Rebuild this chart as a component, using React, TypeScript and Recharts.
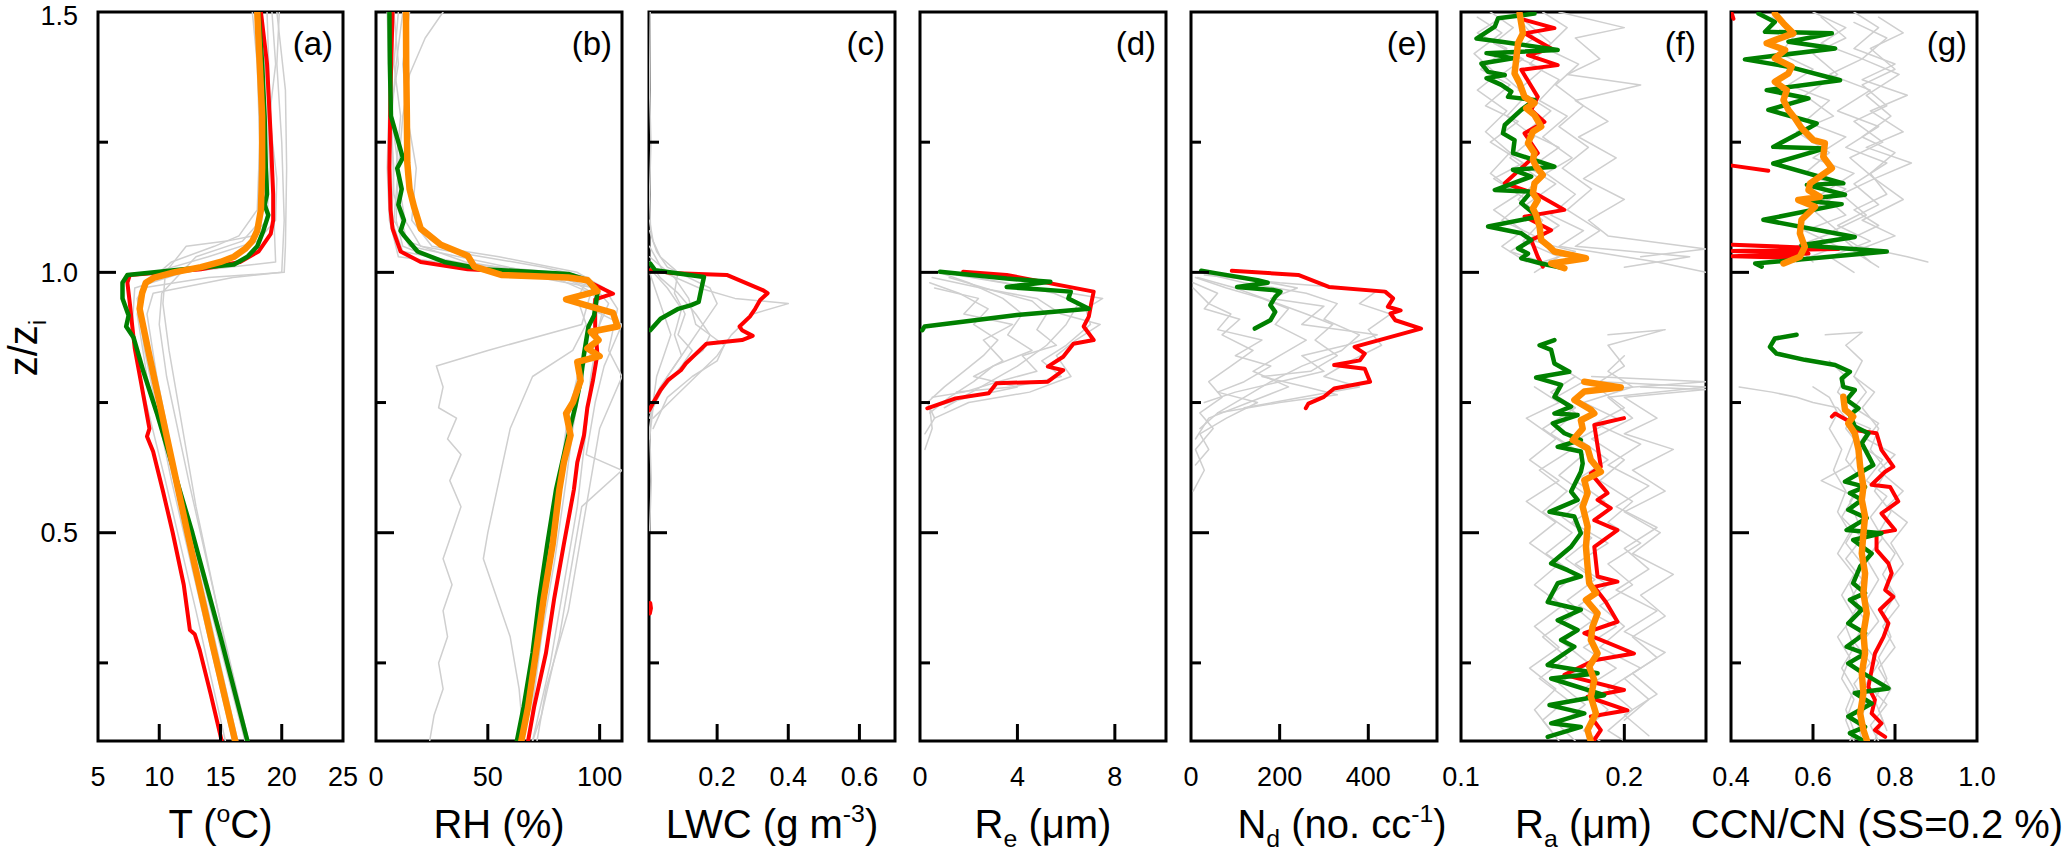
import React from 'react'
import { ScatterChart, Scatter, XAxis, YAxis, ReferenceArea, Label } from 'recharts'

type Pt = [number, number] // [x value, z/zi]

const Z_TICKS = [0.25, 0.5, 0.75, 1, 1.25, 1.5]

// ---------- (a) temperature
const tMarks = [10, 15, 20]
const tLabels = [5, 10, 15, 20, 25]
const tGray: Pt[][] = [
  [[18.8, 1.5], [19.0, 1.35], [19.3, 1.2], [19.4, 1.08], [19.5, 1.02], [12, 1.0], [8.0, 0.97], [7.8, 0.9], [8.4, 0.8], [10.5, 0.6], [13, 0.35], [15.4, 0.1]],
  [[19.8, 1.5], [19.6, 1.4], [20.0, 1.25], [20.2, 1.1], [20.0, 1.0], [16, 0.99], [9.5, 0.96], [9.0, 0.92], [9.8, 0.8], [11.5, 0.6], [14.0, 0.35], [16.4, 0.1]],
  [[17.6, 1.5], [18.0, 1.4], [18.2, 1.25], [18.0, 1.12], [16.5, 1.07], [14.5, 1.05], [11, 1.02], [9, 0.98], [8.4, 0.94], [9.3, 0.82], [12.0, 0.55], [17.0, 0.1]],
  [[18.4, 1.5], [18.6, 1.3], [18.6, 1.15], [18.3, 1.1], [16.8, 1.06], [13, 1.03], [10.2, 0.96], [10, 0.9], [10.6, 0.8], [12.4, 0.6], [14.8, 0.35], [17.3, 0.1]],
  [[19.2, 1.5], [19.5, 1.4], [19.0, 1.3], [19.6, 1.18], [19.5, 1.1], [18.0, 1.06], [14, 1.03], [9.6, 1.0], [8.2, 0.95], [8.8, 0.85], [11.0, 0.6], [13.5, 0.35], [16.0, 0.1]],
  [[18.2, 1.5], [18.8, 1.35], [19.0, 1.2], [18.8, 1.1], [17.6, 1.07], [15.5, 1.06], [12.2, 1.05], [10.5, 1.0], [10.3, 0.94], [10.8, 0.85], [13.0, 0.55], [16.6, 0.15]],
  [[19.6, 1.5], [20.3, 1.35], [20.4, 1.2], [20.3, 1.05], [20.2, 1.0], [14, 0.99], [8.6, 0.97], [8.2, 0.92], [9.0, 0.8], [11.2, 0.6], [13.8, 0.35], [16.2, 0.1]],
]
const tRed: Pt[] = [[18.3, 1.5], [18.8, 1.4], [19.1, 1.26], [19.3, 1.15], [19.3, 1.1], [19.1, 1.074], [18.1, 1.04], [16.6, 1.02], [13.4, 1.006], [7.6, 0.995], [7.4, 0.98], [7.6, 0.94], [7.8, 0.896], [8.0, 0.854], [8.5, 0.79], [9.2, 0.7], [9.0, 0.685], [9.5, 0.656], [10.3, 0.58], [11.1, 0.5], [12.0, 0.4], [12.5, 0.313], [12.9, 0.305], [13.3, 0.275], [14.2, 0.19], [15.1, 0.1]]
const tGreen: Pt[] = [[18.1, 1.5], [18.4, 1.4], [18.6, 1.3], [18.7, 1.2], [18.8, 1.15], [18.6, 1.13], [18.9, 1.11], [18.5, 1.08], [18.0, 1.05], [17.2, 1.03], [16.1, 1.015], [12.0, 1.006], [7.4, 0.995], [7.0, 0.98], [7.0, 0.95], [7.5, 0.917], [7.3, 0.896], [7.9, 0.875], [8.7, 0.81], [9.8, 0.73], [12.7, 0.5], [15.0, 0.3], [17.2, 0.1]]
const tOrange: Pt[] = [[18.0, 1.5], [18.2, 1.4], [18.4, 1.3], [18.4, 1.2], [18.3, 1.12], [18.0, 1.08], [17.6, 1.06], [17.0, 1.045], [16.1, 1.03], [15.0, 1.02], [13.4, 1.01], [11.2, 1.0], [9.6, 0.99], [8.9, 0.98], [8.6, 0.96], [8.4, 0.93], [9.1, 0.85], [10.2, 0.73], [12.3, 0.5], [14.4, 0.28], [16.2, 0.1]]

// ---------- (b) relative humidity
const rhMarks = [50, 100]
const rhLabels = [0, 50, 100]
const rhGray: Pt[][] = [
  [[30, 1.5], [22, 1.45], [15, 1.38], [12, 1.3], [10, 1.2], [9, 1.1], [12, 1.05], [30, 1.02], [80, 1.0], [95, 0.98], [100, 0.95], [96, 0.9], [92, 0.8], [88, 0.7], [85, 0.6], [80, 0.45], [74, 0.3], [68, 0.1]],
  [[8, 1.5], [10, 1.4], [6, 1.3], [8, 1.2], [7, 1.1], [12, 1.04], [60, 1.0], [98, 0.97], [104, 0.94], [100, 0.9], [96, 0.8], [94, 0.7], [90, 0.55], [84, 0.4], [78, 0.25], [70, 0.1]],
  [[15, 1.5], [12, 1.4], [14, 1.3], [18, 1.2], [16, 1.1], [25, 1.05], [55, 1.03], [90, 1.0], [102, 0.97], [108, 0.93], [104, 0.85], [110, 0.8], [100, 0.7], [96, 0.6], [92, 0.5], [86, 0.35], [76, 0.2], [72, 0.1]],
  [[5, 1.5], [6, 1.35], [5, 1.2], [6, 1.1], [10, 1.03], [80, 0.99], [96, 0.96], [92, 0.9], [50, 0.85], [27, 0.82], [30, 0.78], [28, 0.74], [36, 0.72], [32, 0.68], [38, 0.65], [33, 0.6], [38, 0.55], [34, 0.5], [30, 0.45], [34, 0.4], [30, 0.35], [32, 0.3], [28, 0.25], [30, 0.2], [26, 0.15], [24, 0.1]],
  [[10, 1.5], [8, 1.4], [11, 1.3], [9, 1.2], [13, 1.1], [20, 1.05], [75, 1.01], [95, 0.99], [90, 0.95], [94, 0.9], [88, 0.85], [70, 0.8], [60, 0.7], [55, 0.6], [50, 0.5], [48, 0.45], [52, 0.4], [60, 0.3], [64, 0.2], [66, 0.1]],
  [[6, 1.5], [7, 1.3], [8, 1.15], [14, 1.06], [40, 1.02], [85, 0.99], [97, 0.96], [101, 0.92], [97, 0.85], [90, 0.8], [85, 0.7], [82, 0.6], [78, 0.5], [75, 0.4], [72, 0.3], [68, 0.2], [65, 0.1]],
  [[12, 1.5], [9, 1.4], [7, 1.3], [10, 1.2], [8, 1.1], [15, 1.05], [70, 1.0], [100, 0.97], [96, 0.93], [110, 0.9], [102, 0.82], [98, 0.75], [94, 0.65], [110, 0.62], [92, 0.55], [88, 0.45], [82, 0.3], [74, 0.15], [70, 0.1]],
]
const rhRed: Pt[] = [[7.4, 1.5], [6.5, 1.35], [6, 1.2], [6.5, 1.12], [7.4, 1.084], [11, 1.04], [20, 1.02], [41, 1.006], [87, 0.995], [96, 0.98], [106, 0.959], [98, 0.948], [98, 0.896], [99, 0.843], [97, 0.792], [94.5, 0.74], [93, 0.687], [90, 0.635], [88.5, 0.583], [84, 0.478], [79.7, 0.374], [76, 0.269], [70.7, 0.165], [68, 0.1]]
const rhGreen: Pt[] = [[6, 1.5], [6.2, 1.4], [6.7, 1.3], [10, 1.25], [12, 1.22], [9.5, 1.2], [11.5, 1.16], [10, 1.13], [12.5, 1.1], [11, 1.08], [12.6, 1.07], [18.6, 1.04], [30.5, 1.02], [48, 1.006], [86, 0.997], [94.5, 0.985], [99, 0.959], [97.5, 0.917], [95, 0.896], [93, 0.843], [91.5, 0.792], [89, 0.74], [86, 0.687], [80.5, 0.583], [76.6, 0.478], [73, 0.374], [70, 0.269], [66, 0.165], [63, 0.1]]
const rhOrange: Pt[] = [[13.4, 1.5], [13.5, 1.4], [13.8, 1.3], [14, 1.21], [15, 1.16], [17, 1.126], [20, 1.084], [29, 1.053], [41, 1.032], [44, 1.011], [56, 0.995], [86, 0.99], [94.6, 0.985], [99, 0.964], [85, 0.948], [93, 0.938], [106, 0.922], [108, 0.896], [96, 0.886], [99.5, 0.87], [94.5, 0.854], [100, 0.839], [90, 0.828], [91.5, 0.792], [88, 0.75], [85, 0.729], [87, 0.687], [84, 0.635], [82, 0.583], [79, 0.478], [75, 0.374], [71.5, 0.269], [68, 0.165], [65, 0.1]]

// ---------- (c) liquid water content
const lwcMarks = [0.2, 0.4, 0.6]
const lwcLabels = [0.2, 0.4, 0.6]
const lwcGray: Pt[][] = [
  [[0.01, 1.08], [0.03, 1.04], [0.06, 1.01], [0.12, 0.99], [0.18, 0.97], [0.2, 0.94], [0.16, 0.9], [0.12, 0.86], [0.08, 0.82], [0.04, 0.78], [0.01, 0.74]],
  [[0.01, 1.05], [0.05, 1.0], [0.15, 0.97], [0.25, 0.95], [0.4, 0.94], [0.3, 0.92], [0.24, 0.88], [0.2, 0.84], [0.14, 0.8], [0.08, 0.76], [0.02, 0.72]],
  [[0.01, 1.03], [0.08, 0.99], [0.12, 0.95], [0.14, 0.9], [0.22, 0.86], [0.2, 0.83], [0.13, 0.8], [0.06, 0.76], [0.02, 0.7]],
  [[0.02, 1.0], [0.06, 0.97], [0.1, 0.93], [0.08, 0.88], [0.1, 0.84], [0.06, 0.8], [0.03, 0.76], [0.01, 0.72]],
  [[0.01, 1.02], [0.04, 0.99], [0.09, 0.96], [0.14, 0.92], [0.18, 0.88], [0.16, 0.85], [0.1, 0.82], [0.05, 0.78], [0.02, 0.74], [0.01, 0.68]],
  [[0.01, 1.0], [0.03, 0.96], [0.05, 0.92], [0.07, 0.88], [0.05, 0.84], [0.03, 0.8], [0.02, 0.75], [0.01, 0.7], [0.015, 0.6], [0.01, 0.5]],
  [[0.01, 1.1], [0.02, 1.06], [0.04, 1.03], [0.09, 1.0], [0.08, 0.96], [0.11, 0.92], [0.09, 0.88], [0.13, 0.85], [0.09, 0.81], [0.04, 0.77], [0.01, 0.73]],
  [[0.012, 1.5], [0.01, 1.35], [0.014, 1.25], [0.01, 1.15], [0.013, 1.08]],
]
const lwcRed: Pt[] = [[0.012, 1.004], [0.069, 0.999], [0.227, 0.995], [0.328, 0.966], [0.342, 0.96], [0.321, 0.947], [0.307, 0.93], [0.292, 0.915], [0.263, 0.896], [0.27, 0.889], [0.3, 0.878], [0.27, 0.87], [0.17, 0.863], [0.141, 0.844], [0.112, 0.825], [0.098, 0.812], [0.062, 0.793], [0.041, 0.774], [0.019, 0.748], [0.009, 0.735]]
const lwcRedLow: Pt[] = [[0.012, 0.365], [0.014, 0.355], [0.011, 0.345]]
const lwcGreen: Pt[] = [[0.012, 1.017], [0.026, 1.004], [0.163, 0.991], [0.155, 0.966], [0.148, 0.943], [0.127, 0.937], [0.091, 0.93], [0.041, 0.911], [0.012, 0.889]]

// ---------- (d) effective radius
const reMarks = [4, 8]
const reLabels = [0, 4, 8]
const reGray: Pt[][] = [
  [[1.0, 1.0], [3.5, 0.98], [5.5, 0.96], [6.5, 0.94], [6.0, 0.9], [5.2, 0.86], [4.0, 0.82], [2.5, 0.78], [1.0, 0.74]],
  [[0.5, 0.99], [2.5, 0.97], [4.8, 0.95], [5.8, 0.92], [7.4, 0.9], [6.4, 0.87], [5.6, 0.84], [6.2, 0.8], [4.5, 0.77], [2.0, 0.75], [0.6, 0.72]],
  [[0.8, 1.0], [2.0, 0.98], [3.4, 0.95], [4.2, 0.92], [3.6, 0.88], [4.6, 0.85], [3.0, 0.82], [2.2, 0.79], [1.2, 0.76], [0.4, 0.73]],
  [[1.5, 0.995], [4.0, 0.975], [6.2, 0.96], [7.5, 0.95], [6.8, 0.93], [7.0, 0.9], [6.0, 0.86], [5.0, 0.83], [5.8, 0.8], [3.8, 0.78], [1.5, 0.77]],
  [[0.4, 0.98], [1.6, 0.96], [2.8, 0.93], [2.2, 0.9], [3.2, 0.87], [2.6, 0.84], [1.8, 0.81], [1.0, 0.78], [0.3, 0.75], [0.6, 0.72], [0.2, 0.69]],
  [[1.2, 0.99], [3.0, 0.965], [4.6, 0.945], [5.2, 0.92], [4.8, 0.89], [5.6, 0.86], [4.2, 0.84], [4.8, 0.81], [3.2, 0.79], [1.8, 0.77], [0.5, 0.76]],
  [[0.6, 0.97], [2.4, 0.95], [1.8, 0.92], [3.8, 0.9], [2.6, 0.87], [3.4, 0.83], [2.2, 0.8], [4.0, 0.78], [2.0, 0.76], [0.4, 0.74], [0.5, 0.7], [0.2, 0.66]],
]
const reRed: Pt[] = [[1.77, 1.001], [3.56, 0.995], [7.13, 0.963], [7.03, 0.94], [6.93, 0.915], [6.72, 0.896], [7.13, 0.87], [6.3, 0.863], [5.88, 0.838], [5.25, 0.819], [5.88, 0.812], [5.25, 0.79], [3.14, 0.787], [2.82, 0.768], [1.46, 0.758], [0.3, 0.739]]
const reGreen: Pt[] = [[0.82, 1.001], [3.56, 0.988], [5.35, 0.982], [3.56, 0.972], [4.4, 0.969], [6.19, 0.963], [6.09, 0.95], [6.93, 0.93], [3.98, 0.918], [0.19, 0.896], [0.09, 0.889]]

// ---------- (e) droplet number
const ndMarks = [200, 400]
const ndLabels = [0, 200, 400]
const ndGray: Pt[][] = [
  [[20, 1.0], [120, 0.98], [260, 0.96], [330, 0.94], [300, 0.91], [380, 0.88], [340, 0.85], [250, 0.82], [180, 0.79], [120, 0.76], [60, 0.73], [20, 0.7]],
  [[10, 0.99], [80, 0.97], [160, 0.95], [220, 0.93], [190, 0.9], [260, 0.87], [200, 0.84], [140, 0.81], [220, 0.78], [130, 0.75], [40, 0.72], [10, 0.68]],
  [[30, 0.995], [200, 0.98], [420, 0.965], [380, 0.94], [450, 0.92], [400, 0.89], [430, 0.86], [360, 0.83], [300, 0.8], [380, 0.78], [250, 0.76], [120, 0.74]],
  [[5, 0.98], [60, 0.96], [30, 0.93], [110, 0.91], [70, 0.88], [140, 0.85], [90, 0.82], [40, 0.79], [70, 0.76], [20, 0.73], [50, 0.7], [10, 0.66], [30, 0.62], [5, 0.58]],
  [[15, 0.99], [100, 0.97], [180, 0.945], [260, 0.92], [320, 0.9], [280, 0.87], [330, 0.84], [270, 0.81], [160, 0.8], [260, 0.78], [330, 0.765], [200, 0.75], [60, 0.73]],
  [[5, 0.97], [40, 0.94], [90, 0.92], [60, 0.89], [160, 0.87], [100, 0.84], [180, 0.82], [120, 0.79], [60, 0.77], [150, 0.75], [80, 0.72], [20, 0.69], [40, 0.66], [10, 0.63]],
  [[20, 1.0], [150, 0.985], [240, 0.97], [180, 0.95], [300, 0.935], [250, 0.9], [420, 0.88], [350, 0.86], [250, 0.84], [300, 0.81], [200, 0.79], [100, 0.77], [30, 0.75]],
]
const ndRed: Pt[] = [[92, 1.003], [242, 0.995], [311, 0.972], [438, 0.963], [456, 0.95], [444, 0.934], [473, 0.927], [450, 0.921], [461, 0.908], [519, 0.892], [369, 0.857], [392, 0.844], [381, 0.831], [323, 0.822], [392, 0.815], [404, 0.79], [323, 0.777], [300, 0.761], [265, 0.748], [259, 0.739]]
const ndGreen: Pt[] = [[23, 1.003], [58, 0.998], [150, 0.985], [173, 0.98], [104, 0.972], [185, 0.966], [202, 0.963], [190, 0.953], [179, 0.937], [190, 0.924], [179, 0.908], [144, 0.892]]

// ---------- (f) aerosol radius
const raMarks = [0.2]
const raLabels = [0.1, 0.2]
const raGray: Pt[][] = [
  [[0.118, 1.5], [0.132, 1.47], [0.12, 1.44], [0.138, 1.41], [0.125, 1.38], [0.14, 1.34], [0.128, 1.3], [0.145, 1.26], [0.13, 1.22], [0.148, 1.18], [0.135, 1.14], [0.15, 1.1], [0.138, 1.06], [0.16, 1.03], [0.145, 1.0]],
  [[0.15, 1.5], [0.165, 1.47], [0.152, 1.43], [0.172, 1.4], [0.158, 1.36], [0.175, 1.32], [0.16, 1.28], [0.178, 1.24], [0.162, 1.2], [0.18, 1.16], [0.165, 1.12], [0.185, 1.08], [0.17, 1.05], [0.24, 1.03], [0.2, 1.01]],
  [[0.135, 1.49], [0.145, 1.45], [0.13, 1.42], [0.15, 1.39], [0.135, 1.35], [0.155, 1.31], [0.14, 1.27], [0.16, 1.24], [0.142, 1.2], [0.158, 1.17], [0.14, 1.13], [0.16, 1.09], [0.145, 1.06], [0.17, 1.04], [0.15, 1.02]],
  [[0.125, 1.49], [0.11, 1.46], [0.128, 1.43], [0.112, 1.39], [0.13, 1.36], [0.115, 1.32], [0.135, 1.29], [0.118, 1.25], [0.138, 1.21], [0.12, 1.18], [0.14, 1.14], [0.125, 1.1], [0.145, 1.07], [0.13, 1.04], [0.15, 1.02]],
  [[0.16, 1.5], [0.2, 1.47], [0.17, 1.45], [0.185, 1.41], [0.165, 1.38], [0.21, 1.36], [0.17, 1.33], [0.19, 1.29], [0.172, 1.26], [0.195, 1.22], [0.175, 1.18], [0.2, 1.14], [0.178, 1.1], [0.19, 1.07], [0.25, 1.045], [0.21, 1.03]],
  [[0.14, 1.48], [0.155, 1.44], [0.142, 1.4], [0.16, 1.37], [0.148, 1.33], [0.165, 1.3], [0.15, 1.26], [0.168, 1.22], [0.152, 1.19], [0.17, 1.15], [0.155, 1.11], [0.175, 1.08], [0.16, 1.05], [0.22, 1.02], [0.25, 1.0]],
  [[0.11, 1.49], [0.125, 1.46], [0.108, 1.42], [0.122, 1.38], [0.11, 1.35], [0.128, 1.31], [0.115, 1.27], [0.13, 1.23], [0.118, 1.19], [0.135, 1.15], [0.12, 1.12], [0.138, 1.08], [0.125, 1.05], [0.14, 1.02]],
  [[0.19, 0.88], [0.225, 0.89], [0.19, 0.86], [0.2, 0.82], [0.185, 0.79], [0.25, 0.78], [0.19, 0.76], [0.205, 0.72], [0.18, 0.68], [0.2, 0.64], [0.185, 0.6], [0.205, 0.56], [0.19, 0.52], [0.21, 0.48], [0.19, 0.44], [0.205, 0.4], [0.185, 0.36], [0.2, 0.32], [0.185, 0.28], [0.21, 0.24], [0.19, 0.2], [0.205, 0.16], [0.19, 0.12], [0.2, 0.1]],
  [[0.17, 0.8], [0.155, 0.77], [0.17, 0.74], [0.15, 0.7], [0.168, 0.66], [0.148, 0.62], [0.165, 0.58], [0.15, 0.54], [0.168, 0.5], [0.152, 0.46], [0.17, 0.42], [0.155, 0.38], [0.168, 0.34], [0.15, 0.3], [0.165, 0.26], [0.148, 0.22], [0.165, 0.18], [0.15, 0.14], [0.16, 0.1]],
  [[0.18, 0.8], [0.25, 0.79], [0.185, 0.775], [0.2, 0.74], [0.182, 0.71], [0.21, 0.67], [0.19, 0.63], [0.215, 0.59], [0.195, 0.55], [0.22, 0.51], [0.2, 0.47], [0.215, 0.43], [0.195, 0.39], [0.22, 0.35], [0.2, 0.31], [0.225, 0.27], [0.205, 0.23], [0.22, 0.19], [0.2, 0.15], [0.215, 0.11]],
  [[0.16, 0.82], [0.175, 0.79], [0.158, 0.76], [0.17, 0.73], [0.155, 0.69], [0.175, 0.65], [0.16, 0.61], [0.178, 0.57], [0.162, 0.53], [0.18, 0.49], [0.164, 0.45], [0.182, 0.41], [0.165, 0.37], [0.18, 0.33], [0.162, 0.29], [0.178, 0.25], [0.16, 0.21], [0.176, 0.17], [0.16, 0.13], [0.17, 0.1]],
  [[0.2, 0.84], [0.19, 0.81], [0.205, 0.78], [0.175, 0.75], [0.195, 0.72], [0.172, 0.68], [0.19, 0.64], [0.17, 0.6], [0.188, 0.56], [0.168, 0.52], [0.19, 0.48], [0.17, 0.44], [0.19, 0.4], [0.172, 0.36], [0.195, 0.32], [0.175, 0.28], [0.195, 0.24], [0.175, 0.2], [0.19, 0.16], [0.175, 0.12], [0.185, 0.1]],
  [[0.145, 0.78], [0.16, 0.75], [0.14, 0.72], [0.158, 0.68], [0.142, 0.64], [0.16, 0.6], [0.14, 0.56], [0.158, 0.52], [0.142, 0.48], [0.16, 0.44], [0.145, 0.4], [0.162, 0.36], [0.145, 0.32], [0.16, 0.28], [0.142, 0.24], [0.158, 0.2], [0.145, 0.16], [0.155, 0.12]],
  [[0.21, 0.78], [0.25, 0.775], [0.2, 0.76], [0.22, 0.72], [0.2, 0.69], [0.23, 0.66], [0.205, 0.62], [0.225, 0.58], [0.2, 0.54], [0.222, 0.5], [0.205, 0.46], [0.23, 0.42], [0.21, 0.38], [0.225, 0.34], [0.205, 0.3], [0.22, 0.26], [0.2, 0.22], [0.215, 0.18], [0.2, 0.14]],
]
const raRedUpper: Pt[] = [[0.1389, 1.485], [0.1572, 1.469], [0.1389, 1.459], [0.1552, 1.43], [0.141, 1.417], [0.1592, 1.398], [0.1369, 1.389], [0.147, 1.337], [0.143, 1.312], [0.1511, 1.289], [0.1389, 1.267], [0.147, 1.229], [0.1268, 1.171], [0.147, 1.149], [0.1633, 1.12], [0.1389, 1.107], [0.1552, 1.081], [0.143, 1.062], [0.147, 1.03], [0.1501, 1.011]]
const raGreenUpper: Pt[] = [[0.145, 1.497], [0.1227, 1.488], [0.1207, 1.472], [0.1095, 1.449], [0.1247, 1.443], [0.1592, 1.427], [0.1156, 1.421], [0.1318, 1.411], [0.1125, 1.401], [0.1166, 1.385], [0.1268, 1.379], [0.1156, 1.373], [0.1247, 1.36], [0.1308, 1.347], [0.1288, 1.337], [0.145, 1.331], [0.1369, 1.312], [0.1268, 1.283], [0.1257, 1.267], [0.1328, 1.254], [0.1318, 1.229], [0.1572, 1.203], [0.1318, 1.197], [0.143, 1.184], [0.1207, 1.158], [0.143, 1.155], [0.1369, 1.133], [0.147, 1.107], [0.1166, 1.088], [0.1369, 1.075], [0.143, 1.062], [0.1349, 1.046], [0.141, 1.036], [0.1369, 1.027], [0.1491, 1.017], [0.1633, 1.008]]
const raOrangeUpper: Pt[] = [[0.1359, 1.497], [0.1379, 1.459], [0.1349, 1.44], [0.1339, 1.411], [0.1328, 1.382], [0.1359, 1.363], [0.1389, 1.337], [0.145, 1.325], [0.1399, 1.315], [0.145, 1.302], [0.1491, 1.28], [0.144, 1.27], [0.141, 1.248], [0.145, 1.229], [0.144, 1.216], [0.146, 1.203], [0.1501, 1.187], [0.145, 1.171], [0.144, 1.152], [0.147, 1.139], [0.144, 1.123], [0.146, 1.11], [0.1481, 1.088], [0.1491, 1.062], [0.1542, 1.049], [0.1572, 1.04], [0.1765, 1.027], [0.1552, 1.017], [0.1633, 1.008]]
const raRedLower: Pt[] = [[0.1998, 0.72], [0.1816, 0.707], [0.1856, 0.627], [0.1795, 0.614], [0.1897, 0.576], [0.1836, 0.563], [0.1917, 0.547], [0.1816, 0.524], [0.1958, 0.505], [0.1816, 0.473], [0.1836, 0.416], [0.1958, 0.406], [0.1816, 0.396], [0.1887, 0.367], [0.1958, 0.329], [0.1755, 0.307], [0.2059, 0.268], [0.1816, 0.255], [0.1633, 0.227], [0.1998, 0.198], [0.1775, 0.185], [0.2019, 0.159], [0.1795, 0.147], [0.1856, 0.121], [0.1816, 0.102]]
const raGreenLower: Pt[] = [[0.1572, 0.87], [0.1481, 0.86], [0.1552, 0.851], [0.1572, 0.825], [0.1663, 0.809], [0.146, 0.798], [0.1613, 0.784], [0.1572, 0.761], [0.1674, 0.742], [0.1572, 0.729], [0.1714, 0.726], [0.1562, 0.71], [0.1633, 0.691], [0.1734, 0.678], [0.1592, 0.665], [0.1734, 0.656], [0.1745, 0.633], [0.1734, 0.617], [0.1674, 0.579], [0.1714, 0.563], [0.1542, 0.54], [0.1694, 0.531], [0.1734, 0.499], [0.1674, 0.473], [0.1552, 0.441], [0.1653, 0.428], [0.1734, 0.416], [0.1592, 0.403], [0.1531, 0.367], [0.1734, 0.352], [0.1592, 0.332], [0.1714, 0.313], [0.1613, 0.294], [0.1694, 0.281], [0.1531, 0.246], [0.1836, 0.23], [0.1552, 0.22], [0.1877, 0.188], [0.1542, 0.169], [0.1755, 0.153], [0.1552, 0.134], [0.1734, 0.127], [0.1531, 0.108]]
const raOrangeLower: Pt[] = [[0.1755, 0.79], [0.1978, 0.779], [0.1755, 0.771], [0.1694, 0.755], [0.1795, 0.736], [0.1816, 0.729], [0.1734, 0.716], [0.1745, 0.7], [0.1684, 0.678], [0.1775, 0.662], [0.1795, 0.64], [0.1856, 0.617], [0.1755, 0.601], [0.1775, 0.576], [0.1745, 0.55], [0.1775, 0.512], [0.1765, 0.473], [0.1775, 0.435], [0.1785, 0.403], [0.1826, 0.384], [0.1765, 0.371], [0.1836, 0.345], [0.1805, 0.319], [0.1795, 0.294], [0.1836, 0.268], [0.1785, 0.243], [0.1816, 0.217], [0.1795, 0.185], [0.1826, 0.153], [0.1775, 0.121], [0.1795, 0.099]]

// ---------- (g) CCN/CN
const ccnMarks = [0.6, 0.8]
const ccnLabels = [0.4, 0.6, 0.8, 1.0]
const ccnGray: Pt[][] = [
  [[0.6, 1.5], [0.68, 1.47], [0.62, 1.44], [0.72, 1.41], [0.64, 1.38], [0.74, 1.35], [0.66, 1.31], [0.76, 1.28], [0.68, 1.24], [0.78, 1.21], [0.7, 1.17], [0.76, 1.13], [0.66, 1.09], [0.74, 1.06], [0.64, 1.03], [0.7, 1.0]],
  [[0.7, 1.5], [0.76, 1.47], [0.7, 1.43], [0.8, 1.4], [0.72, 1.37], [0.83, 1.34], [0.74, 1.31], [0.82, 1.27], [0.73, 1.24], [0.84, 1.21], [0.75, 1.18], [0.82, 1.14], [0.72, 1.1], [0.8, 1.07], [0.7, 1.04], [0.76, 1.01]],
  [[0.5, 1.49], [0.56, 1.46], [0.52, 1.42], [0.6, 1.39], [0.54, 1.36], [0.64, 1.33], [0.58, 1.29], [0.68, 1.26], [0.6, 1.22], [0.7, 1.19], [0.62, 1.15], [0.68, 1.11], [0.58, 1.08], [0.66, 1.05], [0.56, 1.02]],
  [[0.76, 1.49], [0.82, 1.46], [0.74, 1.43], [0.8, 1.39], [0.72, 1.36], [0.78, 1.32], [0.7, 1.29], [0.77, 1.25], [0.69, 1.22], [0.75, 1.18], [0.67, 1.15], [0.73, 1.11], [0.65, 1.08], [0.71, 1.05], [0.83, 1.03], [0.88, 1.02]],
  [[0.62, 1.49], [0.68, 1.45], [0.6, 1.42], [0.66, 1.38], [0.58, 1.34], [0.65, 1.3], [0.56, 1.27], [0.64, 1.23], [0.58, 1.19], [0.68, 1.16], [0.6, 1.12], [0.66, 1.08], [0.56, 1.05], [0.6, 1.02]],
  [[0.7, 1.48], [0.78, 1.45], [0.72, 1.41], [0.81, 1.38], [0.73, 1.34], [0.79, 1.3], [0.72, 1.26], [0.8, 1.23], [0.74, 1.19], [0.78, 1.15], [0.7, 1.12], [0.76, 1.09], [0.68, 1.06], [0.74, 1.02]],
  [[0.42, 0.78], [0.5, 0.77], [0.56, 0.76], [0.6, 0.75], [0.66, 0.74], [0.68, 0.72], [0.7, 0.68], [0.68, 0.64], [0.72, 0.6], [0.69, 0.56], [0.71, 0.52], [0.68, 0.48], [0.72, 0.44], [0.69, 0.4], [0.71, 0.36], [0.68, 0.32], [0.7, 0.28], [0.67, 0.24], [0.7, 0.2], [0.68, 0.16], [0.7, 0.12], [0.69, 0.1]],
  [[0.63, 0.88], [0.72, 0.885], [0.68, 0.86], [0.72, 0.83], [0.7, 0.8], [0.75, 0.77], [0.72, 0.74], [0.76, 0.7], [0.74, 0.66], [0.78, 0.62], [0.75, 0.58], [0.79, 0.54], [0.76, 0.5], [0.8, 0.46], [0.77, 0.42], [0.8, 0.38], [0.77, 0.34], [0.79, 0.3], [0.76, 0.26], [0.78, 0.22], [0.75, 0.18], [0.77, 0.14], [0.75, 0.1]],
  [[0.6, 0.78], [0.64, 0.76], [0.66, 0.73], [0.64, 0.7], [0.67, 0.66], [0.65, 0.62], [0.68, 0.58], [0.66, 0.54], [0.69, 0.5], [0.66, 0.46], [0.7, 0.42], [0.67, 0.38], [0.7, 0.34], [0.66, 0.3], [0.69, 0.26], [0.67, 0.22], [0.7, 0.18], [0.68, 0.14], [0.7, 0.1]],
  [[0.7, 0.8], [0.73, 0.77], [0.7, 0.74], [0.76, 0.71], [0.73, 0.68], [0.8, 0.65], [0.76, 0.62], [0.82, 0.58], [0.78, 0.55], [0.83, 0.52], [0.79, 0.48], [0.82, 0.44], [0.78, 0.4], [0.81, 0.36], [0.77, 0.32], [0.8, 0.28], [0.76, 0.24], [0.79, 0.2], [0.76, 0.16], [0.78, 0.12]],
  [[0.64, 0.83], [0.68, 0.8], [0.66, 0.77], [0.7, 0.74], [0.68, 0.7], [0.72, 0.66], [0.69, 0.63], [0.62, 0.6], [0.7, 0.57], [0.67, 0.53], [0.72, 0.49], [0.68, 0.45], [0.72, 0.41], [0.69, 0.37], [0.73, 0.33], [0.7, 0.29], [0.74, 0.25], [0.7, 0.21], [0.73, 0.17], [0.71, 0.13], [0.72, 0.1]],
  [[0.68, 0.72], [0.74, 0.7], [0.71, 0.67], [0.77, 0.64], [0.73, 0.6], [0.78, 0.57], [0.74, 0.53], [0.77, 0.49], [0.73, 0.45], [0.76, 0.41], [0.73, 0.37], [0.76, 0.33], [0.72, 0.29], [0.76, 0.25], [0.73, 0.21], [0.78, 0.17], [0.74, 0.13], [0.76, 0.1]],
]
const ccnRedUpper: Pt[][] = [
  [[0.402, 1.497], [0.406, 1.487]],
  [[0.403, 1.205], [0.491, 1.195]],
  [[0.404, 1.053], [0.662, 1.045], [0.404, 1.041], [0.589, 1.036], [0.404, 1.031], [0.55, 1.028]],
]
const ccnGreenUpper: Pt[] = [[0.467, 1.497], [0.507, 1.481], [0.483, 1.462], [0.646, 1.459], [0.54, 1.443], [0.654, 1.43], [0.434, 1.409], [0.54, 1.395], [0.666, 1.369], [0.487, 1.35], [0.589, 1.334], [0.491, 1.312], [0.609, 1.286], [0.58, 1.273], [0.503, 1.241], [0.629, 1.238], [0.503, 1.209], [0.674, 1.171], [0.585, 1.168], [0.678, 1.149], [0.564, 1.139], [0.67, 1.131], [0.479, 1.101], [0.702, 1.068], [0.572, 1.052], [0.78, 1.04], [0.459, 1.017], [0.475, 1.011]]
const ccnOrangeUpper: Pt[] = [[0.507, 1.497], [0.528, 1.478], [0.552, 1.459], [0.507, 1.446], [0.487, 1.44], [0.532, 1.427], [0.507, 1.411], [0.548, 1.395], [0.54, 1.382], [0.507, 1.366], [0.536, 1.35], [0.528, 1.331], [0.54, 1.312], [0.556, 1.296], [0.572, 1.277], [0.601, 1.254], [0.629, 1.248], [0.625, 1.222], [0.646, 1.2], [0.593, 1.171], [0.589, 1.158], [0.617, 1.145], [0.564, 1.139], [0.605, 1.126], [0.572, 1.101], [0.568, 1.075], [0.58, 1.049], [0.568, 1.03], [0.528, 1.017]]
const ccnRedLower: Pt[] = [[0.646, 0.723], [0.654, 0.729], [0.69, 0.713], [0.702, 0.697], [0.755, 0.691], [0.767, 0.659], [0.796, 0.627], [0.776, 0.617], [0.743, 0.592], [0.788, 0.588], [0.808, 0.56], [0.767, 0.537], [0.8, 0.505], [0.755, 0.499], [0.755, 0.467], [0.784, 0.441], [0.792, 0.422], [0.776, 0.39], [0.796, 0.377], [0.763, 0.352], [0.784, 0.326], [0.772, 0.3], [0.751, 0.268], [0.743, 0.236], [0.735, 0.204], [0.751, 0.179], [0.743, 0.153], [0.767, 0.134], [0.751, 0.121], [0.776, 0.108]]
const ccnGreenLower: Pt[] = [[0.56, 0.88], [0.507, 0.873], [0.495, 0.857], [0.511, 0.844], [0.58, 0.832], [0.654, 0.822], [0.69, 0.809], [0.67, 0.796], [0.674, 0.78], [0.702, 0.774], [0.682, 0.755], [0.711, 0.739], [0.69, 0.726], [0.702, 0.704], [0.735, 0.691], [0.719, 0.672], [0.747, 0.63], [0.678, 0.598], [0.727, 0.588], [0.69, 0.576], [0.719, 0.563], [0.686, 0.544], [0.731, 0.528], [0.682, 0.505], [0.767, 0.499], [0.698, 0.486], [0.743, 0.46], [0.715, 0.435], [0.698, 0.403], [0.727, 0.384], [0.69, 0.371], [0.719, 0.352], [0.686, 0.326], [0.727, 0.307], [0.682, 0.281], [0.727, 0.268], [0.686, 0.249], [0.723, 0.23], [0.784, 0.201], [0.702, 0.192], [0.743, 0.172], [0.686, 0.147], [0.727, 0.127], [0.69, 0.115], [0.719, 0.102]]
const ccnOrangeLower: Pt[] = [[0.674, 0.761], [0.678, 0.736], [0.698, 0.723], [0.686, 0.71], [0.702, 0.691], [0.711, 0.659], [0.715, 0.627], [0.723, 0.588], [0.719, 0.563], [0.727, 0.531], [0.723, 0.499], [0.719, 0.46], [0.727, 0.422], [0.723, 0.384], [0.731, 0.345], [0.723, 0.307], [0.727, 0.268], [0.719, 0.23], [0.723, 0.192], [0.715, 0.153], [0.723, 0.121], [0.731, 0.102]]

// ---------------------------------------------------------------
const GRAY = '#cfcfcf'
const RED = '#ff0000'
const GREEN = '#008000'
const ORANGE = '#ff8c00'
const FONT = '"Liberation Sans", Arial, Helvetica, sans-serif'

const PLOT_TOP = 12
const PLOT_BOTTOM = 741

type Seg = [string] | [string, 'sup' | 'sub']

interface Panel {
  tag: string
  left: number
  width: number
  padL: number
  padR: number
  domain: [number, number]
  marks: number[]
  labels: number[]
  digits: number
  title: Seg[]
  titleDx: number
  gray: Pt[][]
  red: Pt[][]
  green: Pt[][]
  orange: Pt[][]
}

const panels: Panel[] = [
  { tag: '(a)', left: 98, width: 245, padL: 98, padR: 60, domain: [5, 25], marks: tMarks, labels: tLabels, digits: 0,
    title: [['T ('], ['o', 'sup'], ['C)']], titleDx: 0, gray: tGray, red: [tRed], green: [tGreen], orange: [tOrange] },
  { tag: '(b)', left: 376, width: 246, padL: 60, padR: 60, domain: [0, 110], marks: rhMarks, labels: rhLabels, digits: 0,
    title: [['RH (%)']], titleDx: 0, gray: rhGray, red: [rhRed], green: [rhGreen], orange: [rhOrange] },
  { tag: '(c)', left: 649, width: 246, padL: 60, padR: 60, domain: [0.0085, 0.7], marks: lwcMarks, labels: lwcLabels, digits: 1,
    title: [['LWC (g m'], ['-3', 'sup'], [')']], titleDx: 0, gray: lwcGray, red: [lwcRed, lwcRedLow], green: [lwcGreen], orange: [] },
  { tag: '(d)', left: 920, width: 246, padL: 60, padR: 60, domain: [0, 10.1], marks: reMarks, labels: reLabels, digits: 0,
    title: [['R'], ['e', 'sub'], [' (\u03bcm)']], titleDx: 0, gray: reGray, red: [reRed], green: [reGreen], orange: [] },
  { tag: '(e)', left: 1191, width: 246, padL: 60, padR: 60, domain: [0, 555], marks: ndMarks, labels: ndLabels, digits: 0,
    title: [['N'], ['d', 'sub'], [' (no. cc'], ['-1', 'sup'], [')']], titleDx: 28, gray: ndGray, red: [ndRed], green: [ndGreen], orange: [] },
  { tag: '(f)', left: 1461, width: 245, padL: 60, padR: 60, domain: [0.1, 0.25], marks: raMarks, labels: raLabels, digits: 1,
    title: [['R'], ['a', 'sub'], [' (\u03bcm)']], titleDx: 0, gray: raGray, red: [raRedUpper, raRedLower], green: [raGreenUpper, raGreenLower], orange: [raOrangeUpper, raOrangeLower] },
  { tag: '(g)', left: 1731, width: 246, padL: 60, padR: 90, domain: [0.4, 1.0], marks: ccnMarks, labels: ccnLabels, digits: 1,
    title: [['CCN/CN (SS=0.2 %)']], titleDx: 23, gray: ccnGray, red: [...ccnRedUpper, ccnRedLower], green: [ccnGreenUpper, ccnGreenLower], orange: [ccnOrangeUpper, ccnOrangeLower] },
]

function RichText({ segs, size }: { segs: Seg[]; size: number }) {
  let cur = 0
  return (
    <>
      {segs.map((s, i) => {
        const target = s[1] === 'sup' ? -size * 0.4 : s[1] === 'sub' ? size * 0.22 : 0
        const dy = target - cur
        cur = target
        return (
          <tspan key={i} dy={dy} fontSize={s[1] ? size * 0.62 : size}>
            {s[0]}
          </tspan>
        )
      })}
    </>
  )
}

function XTick(props: any) {
  const { x, y, payload, marks, labels, digits } = props
  const v = payload.value
  return (
    <g>
      {marks.includes(v) && <line x1={x} x2={x} y1={y} y2={y - 17} stroke="#000" strokeWidth={3} />}
      {labels.includes(v) && (
        <text x={x} y={y + 45} textAnchor="middle" fontSize={27} fill="#000" fontFamily={FONT}>
          {v.toFixed(digits)}
        </text>
      )}
    </g>
  )
}

function YTick(props: any) {
  const { x, y, payload, showLabel } = props
  const v = payload.value
  const major = v === 0.5 || v === 1 || v === 1.5
  // the top label sits a little lower so it stays inside the page
  const base = v === 1.5 ? y + 12.5 : y + 9.5
  return (
    <g>
      {v !== 1.5 && <line x1={x} x2={x + (major ? 18 : 10)} y1={y} y2={y} stroke="#000" strokeWidth={3} />}
      {showLabel && major && (
        <text x={x - 20} y={base} textAnchor="end" fontSize={27} fill="#000" fontFamily={FONT}>
          {v.toFixed(1)}
        </text>
      )}
    </g>
  )
}

const NoDot = () => <g />

function profile(key: string, pts: Pt[], color: string, width: number) {
  return (
    <Scatter
      key={key}
      data={pts.map(([x, z]) => ({ x, z }))}
      fill={color}
      shape={NoDot}
      line={{ stroke: color, strokeWidth: width, strokeLinejoin: 'round', strokeLinecap: 'round' }}
      lineJointType="linear"
      legendType="none"
      isAnimationActive={false}
    />
  )
}

function ProfilePanel({ p, first }: { p: Panel; first: boolean }) {
  const W = p.padL + p.width + p.padR
  const allTicks = Array.from(new Set([...p.labels, ...p.marks])).sort((a, b) => a - b)
  const plotRight = p.padL + p.width
  const texts = () => (
    <g fontFamily={FONT} fill="#000">
      <text x={p.padL + p.width / 2 + p.titleDx} y={838} textAnchor="middle" fontSize={40}>
        <RichText segs={p.title} size={40} />
      </text>
      <text x={plotRight - 10} y={55} textAnchor="end" fontSize={33}>
        {p.tag}
      </text>
      {first && (
        <text x={37} y={348} textAnchor="middle" fontSize={40} transform="rotate(-90 37 348)">
          <RichText segs={[['z/z'], ['i', 'sub']]} size={40} />
        </text>
      )}
    </g>
  )
  return (
    <div style={{ position: 'absolute', left: p.left - p.padL, top: 0 }}>
      <ScatterChart
        width={W}
        height={851}
        margin={{ top: PLOT_TOP, right: p.padR, bottom: 851 - PLOT_BOTTOM - 60, left: 0 }}
      >
        <XAxis
          type="number"
          dataKey="x"
          domain={p.domain}
          allowDataOverflow
          ticks={allTicks}
          interval={0}
          height={60}
          axisLine={false}
          tickLine={false}
          tickSize={0}
          tickMargin={0}
          tick={<XTick marks={p.marks} labels={p.labels} digits={p.digits} />}
        >
          <Label content={texts} />
        </XAxis>
        <YAxis
          type="number"
          dataKey="z"
          domain={[0.1, 1.5]}
          allowDataOverflow
          ticks={Z_TICKS}
          interval={0}
          width={p.padL}
          axisLine={false}
          tickLine={false}
          tickSize={0}
          tickMargin={0}
          tick={<YTick showLabel={first} />}
        />
        {p.gray.map((g, i) => profile(`g${i}`, g, GRAY, 1.5))}
        {p.red.map((g, i) => profile(`r${i}`, g, RED, 4))}
        {p.green.map((g, i) => profile(`gr${i}`, g, GREEN, 4.5))}
        {p.orange.map((g, i) => profile(`o${i}`, g, ORANGE, 6.5))}
        <ReferenceArea
          x1={p.domain[0]}
          x2={p.domain[1]}
          y1={0.1}
          y2={1.5}
          fill="none"
          fillOpacity={0}
          stroke="#000"
          strokeWidth={3}
          ifOverflow="visible"
        />
      </ScatterChart>
    </div>
  )
}

export default function App() {
  return (
    <div
      style={{
        position: 'absolute',
        left: 0,
        top: 0,
        width: 2067,
        height: 851,
        background: '#fff',
        fontFamily: FONT,
        overflow: 'hidden',
      }}
    >
      {panels.map((p, i) => (
        <ProfilePanel key={p.tag} p={p} first={i === 0} />
      ))}
    </div>
  )
}
